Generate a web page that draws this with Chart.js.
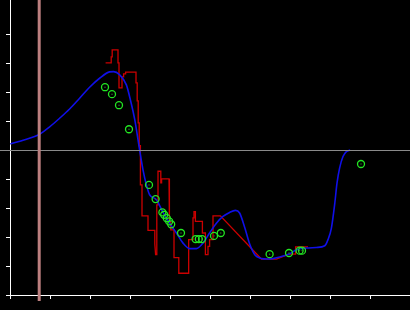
<!DOCTYPE html>
<html>
<head>
<meta charset="utf-8">
<script src="https://cdn.jsdelivr.net/npm/chart.js@4/dist/chart.umd.min.js"></script>
<style>
html,body{margin:0;padding:0;background:#000;}
canvas{display:block;background:#000;}
</style>
</head>
<body>
<canvas id="c" width="410" height="310"></canvas>
<script>
// Red step-like series (x, y)
const redX = [2.39,2.53,2.53,2.555,2.555,2.70,2.70,2.725,2.725,2.80,2.80,2.84,2.84,2.89,2.89,3.15,3.15,3.18,3.18,3.205,3.205,3.23,3.23,3.26,3.26,3.30,3.30,3.45,3.45,3.62,3.62,3.64,3.67,3.67,3.70,3.70,3.77,3.77,3.79,3.79,3.975,3.975,3.99,3.99,4.02,4.02,4.10,4.10,4.22,4.22,4.45,4.45,4.475,4.475,4.575,4.575,4.60,4.60,4.635,4.635,4.81,4.81,4.885,4.885,4.95,4.95,4.99,4.99,5.075,5.075,5.26,6.285,6.66,6.975,7.14,7.14,7.45];
const redY = [8.01,8.01,8.22,8.22,8.46,8.46,8.01,8.01,7.15,7.15,7.53,7.53,7.63,7.63,7.69,7.69,7.32,7.32,6.70,6.70,5.94,5.94,5.15,5.15,3.80,3.80,2.73,2.73,2.23,2.23,1.77,1.39,1.39,3.11,3.11,4.27,4.27,3.87,3.87,4.01,4.01,3.36,3.36,2.53,2.53,2.25,2.25,1.29,1.29,0.75,0.75,1.33,1.33,1.91,1.91,2.66,2.66,2.88,2.88,2.54,2.54,2.14,2.14,1.39,1.39,1.68,1.68,1.91,1.91,2.73,2.73,1.24,1.24,1.41,1.41,1.66,1.66];

// Blue smooth curve (x, y)
const blueX = [0.01,0.37,0.72,0.99,1.24,1.49,1.74,1.99,2.24,2.49,2.59,2.74,2.91,3.01,3.12,3.24,3.325,3.41,3.49,3.66,3.825,3.99,4.16,4.325,4.49,4.66,4.825,4.99,5.16,5.325,5.49,5.635,5.74,5.87,5.99,6.12,6.24,6.49,6.74,6.99,7.16,7.41,7.66,7.87,7.95,8.035,8.12,8.175,8.24,8.325,8.41,8.505];
const blueY = [5.21,5.36,5.53,5.80,6.10,6.42,6.79,7.17,7.48,7.70,7.71,7.60,7.25,6.73,6.04,5.01,4.32,3.80,3.46,3.29,2.85,2.48,2.14,1.79,1.60,1.60,1.79,2.14,2.48,2.71,2.85,2.92,2.83,2.32,1.77,1.39,1.28,1.24,1.31,1.42,1.56,1.62,1.64,1.70,1.91,2.31,3.17,3.86,4.38,4.78,4.95,5.00];

// Green observation points (x, y)
const ptsX = [2.375,2.55,2.725,2.975,3.475,3.64,3.81,3.855,3.92,3.98,4.03,4.275,4.64,4.72,4.80,5.10,5.27,6.49,6.975,7.24,7.30,8.775];
const ptsY = [7.17,6.93,6.55,5.72,3.80,3.31,2.85,2.77,2.65,2.54,2.44,2.14,1.93,1.93,1.93,2.04,2.14,1.41,1.45,1.53,1.53,4.52];

// Reference lines
const refLineX = 0.73;
const refLineY = 5;

const zip = (xs, ys) => xs.map((x, i) => ({x: x, y: ys[i]}));

const refPlugin = {
  id: 'refLines',
  afterDatasetsDraw(chart) {
    const ctx = chart.ctx;
    const xs = chart.scales.x, ys = chart.scales.y;
    const py = Math.round(ys.getPixelForValue(refLineY)) + 0.5;
    const px = xs.getPixelForValue(refLineX);
    ctx.save();
    ctx.strokeStyle = '#8a8a8a';
    ctx.lineWidth = 1;
    ctx.beginPath();
    ctx.moveTo(0, py);
    ctx.lineTo(chart.width, py);
    ctx.stroke();
    ctx.strokeStyle = '#bc7f7f';
    ctx.lineWidth = 3;
    ctx.beginPath();
    ctx.moveTo(px, 0);
    ctx.lineTo(px, chart.chartArea.bottom + 6);
    ctx.stroke();
    ctx.restore();
  }
};

new Chart(document.getElementById('c'), {
  type: 'line',
  data: {
    datasets: [
      {
        data: zip(ptsX, ptsY),
        showLine: false,
        pointRadius: 3.5,
        pointBorderWidth: 1.3,
        pointBorderColor: '#22e622',
        pointBackgroundColor: 'rgba(0,0,0,0)',
        order: 0
      },
      {
        data: zip(ptsX, ptsY),
        showLine: false,
        pointRadius: 0.7,
        pointBorderWidth: 0,
        pointBackgroundColor: '#2a8a2a',
        order: 0
      },
      {
        data: zip(blueX, blueY),
        borderColor: '#1010e8',
        borderWidth: 1.6,
        pointRadius: 0,
        cubicInterpolationMode: 'monotone',
        fill: false,
        order: 1
      },
      {
        data: zip(redX, redY),
        borderColor: '#cc0000',
        borderWidth: 1.3,
        pointRadius: 0,
        tension: 0,
        fill: false,
        order: 2
      }
    ]
  },
  options: {
    responsive: false,
    animation: false,
    events: [],
    layout: {autoPadding: false, padding: {left: 6, top: 0, right: 0, bottom: 11}},
    plugins: {legend: {display: false}, tooltip: {enabled: false}},
    scales: {
      x: {
        type: 'linear',
        min: 0,
        max: 10,
        ticks: {display: false, stepSize: 1},
        grid: {display: true, drawOnChartArea: false, drawTicks: true, tickLength: 4, color: '#ffffff'},
        border: {display: true, color: '#ffffff', width: 1}
      },
      y: {
        type: 'linear',
        min: 0,
        max: 10.18,
        afterBuildTicks(scale) { scale.ticks = scale.ticks.filter(t => t.value <= 9); },
        ticks: {display: false, stepSize: 1},
        grid: {display: true, drawOnChartArea: false, drawTicks: true, tickLength: 4, color: '#ffffff'},
        border: {display: true, color: '#ffffff', width: 1}
      }
    }
  },
  plugins: [refPlugin]
});
</script>
</body>
</html>
